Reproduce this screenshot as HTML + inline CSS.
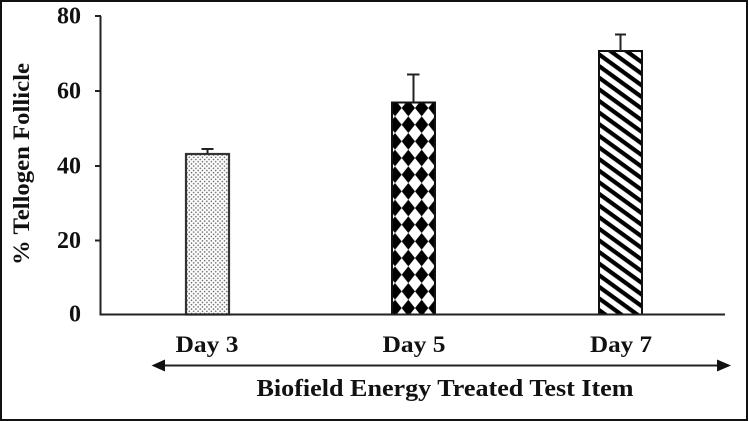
<!DOCTYPE html>
<html>
<head>
<meta charset="utf-8">
<style>
  html, body { margin:0; padding:0; background:#fff; }
  svg { display:block; }
  text { font-family: "Liberation Serif", "Times New Roman", serif; font-weight: bold; fill:#111; }
</style>
</head>
<body>
<svg width="749" height="421" viewBox="0 0 749 421" xmlns="http://www.w3.org/2000/svg">
  <defs>
    <pattern id="dots" patternUnits="userSpaceOnUse" x="186" y="154" width="4.4" height="4.4">
      <circle cx="1.1" cy="1.1" r="0.8" fill="#666"/>
      <circle cx="3.3" cy="3.3" r="0.8" fill="#666"/>
    </pattern>
    <pattern id="diam" patternUnits="userSpaceOnUse" x="388.33" y="99.67" width="13.33" height="16.67">
      <rect width="13.33" height="16.67" fill="#fff"/>
      <polygon points="6.67,0 13.33,8.33 6.67,16.67 0,8.33" fill="#000"/>
    </pattern>
    <pattern id="stripe" patternUnits="userSpaceOnUse" width="20" height="9.4" patternTransform="rotate(36)">
      <rect width="20" height="9.4" fill="#fff"/>
      <rect y="0" width="20" height="4.2" fill="#000"/>
    </pattern>
  </defs>

  <rect x="0" y="0" width="749" height="421" fill="#fff"/>
  <!-- frame -->
  <rect x="1" y="1" width="746" height="419" fill="none" stroke="#111" stroke-width="2"/>

  <!-- y axis -->
  <line x1="100.5" y1="16" x2="100.5" y2="315.5" stroke="#222" stroke-width="2"/>
  <g stroke="#222" stroke-width="2">
    <line x1="95" y1="16" x2="101" y2="16"/>
    <line x1="95" y1="91" x2="101" y2="91"/>
    <line x1="95" y1="166" x2="101" y2="166"/>
    <line x1="95" y1="240.5" x2="101" y2="240.5"/>
  </g>
  <g font-size="24" text-anchor="end">
    <text x="81" y="23.5">80</text>
    <text x="81" y="98.5">60</text>
    <text x="81" y="173.5">40</text>
    <text x="81" y="248">20</text>
    <text x="81" y="321.5">0</text>
  </g>
  <text transform="translate(29,164) rotate(-90)" font-size="23" text-anchor="middle" textLength="202" lengthAdjust="spacingAndGlyphs">% Tellogen Follicle</text>

  <!-- bars -->
  <rect x="186" y="154" width="43" height="160.5" fill="url(#dots)" stroke="#333" stroke-width="2.2"/>
  <rect x="392" y="102.5" width="43" height="212" fill="url(#diam)" stroke="#111" stroke-width="2"/>
  <rect x="599" y="51" width="43" height="263.5" fill="url(#stripe)" stroke="#111" stroke-width="2"/>

  <!-- error bars -->
  <g stroke="#222" stroke-width="2">
    <line x1="207.5" y1="149" x2="207.5" y2="154"/>
    <line x1="201.5" y1="149" x2="213.5" y2="149"/>
    <line x1="413.5" y1="74.5" x2="413.5" y2="102.5"/>
    <line x1="407" y1="74.5" x2="419.5" y2="74.5"/>
    <line x1="620.5" y1="34.5" x2="620.5" y2="51"/>
    <line x1="615" y1="34.5" x2="626" y2="34.5"/>
  </g>

  <!-- x axis -->
  <line x1="100" y1="314.5" x2="725" y2="314.5" stroke="#222" stroke-width="2"/>

  <!-- day labels -->
  <g font-size="23" text-anchor="middle">
    <text x="207" y="352" textLength="63" lengthAdjust="spacingAndGlyphs">Day 3</text>
    <text x="414" y="352" textLength="63" lengthAdjust="spacingAndGlyphs">Day 5</text>
    <text x="621" y="352" textLength="62" lengthAdjust="spacingAndGlyphs">Day 7</text>
  </g>

  <!-- double arrow -->
  <line x1="160" y1="365.5" x2="720" y2="365.5" stroke="#222" stroke-width="2"/>
  <polygon points="151.5,365.5 165,359.5 165,371.5" fill="#111"/>
  <polygon points="731,365.5 717,359.5 717,371.5" fill="#111"/>

  <text x="256.5" y="396" font-size="24" textLength="377" lengthAdjust="spacingAndGlyphs">Biofield Energy Treated Test Item</text>
</svg>
</body>
</html>
